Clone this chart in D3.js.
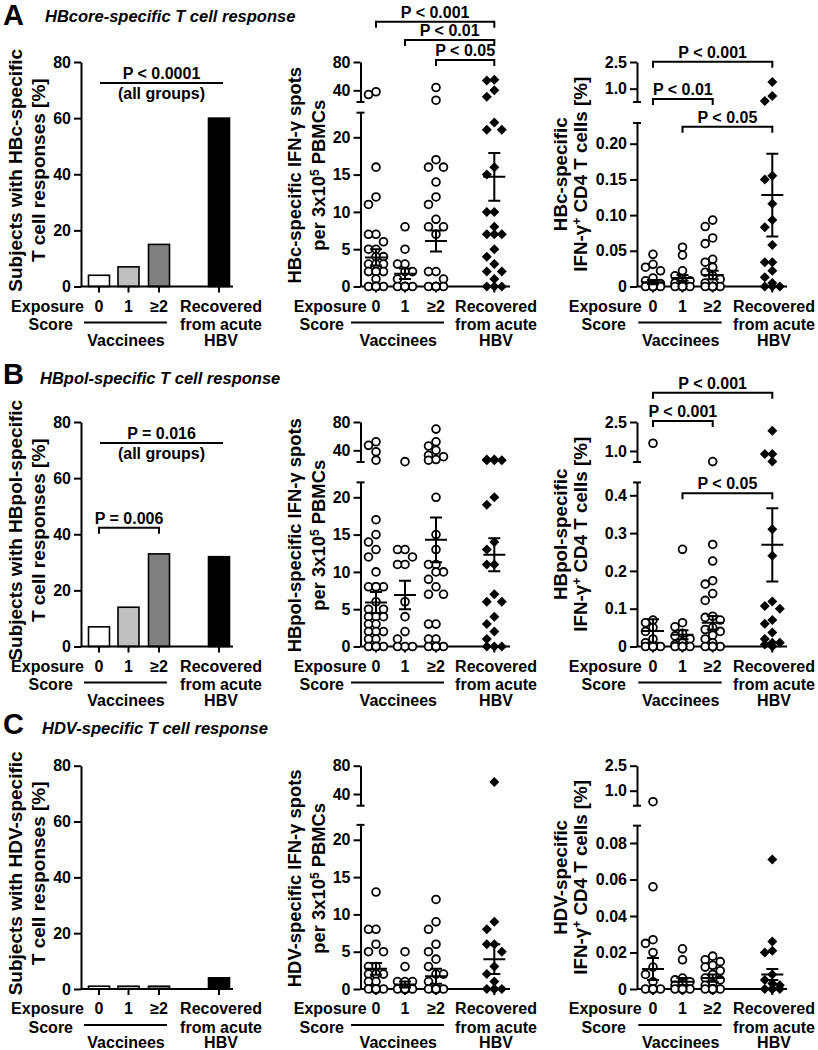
<!DOCTYPE html>
<html><head><meta charset="utf-8">
<script src="https://cdn.jsdelivr.net/npm/d3@7"></script>
<style>body{margin:0;background:#fff}svg text{font-family:"Liberation Sans",Arial,Helvetica,sans-serif;font-weight:bold;fill:#000}</style>
</head><body><svg id="chart" width="818" height="1050"></svg>
<script>
// ================= DATA =================
const groupKeys = ["g0", "g1", "g2", "rec"];
const groupLabels = ["0", "1", "\u22652"];
const barColors = ["#ffffff", "#c0c0c0", "#808080", "#000000"];
const barTicks = [0, 20, 40, 60, 80];

// % subjects with responses
const barA = [4, 7, 15, 60];
const barB = [7, 14, 33, 32];
const barC = [1, 1, 1, 4];

// IFN-g spots per 3x10^5 PBMCs — HBcore
const spotsA_g0 = [38, 34, 16, 12, 11, 7, 7, 6, 5, 5, 4, 4, 3, 3, 3, 2, 2, 2, 2, 1, 0, 0, 0, 0, 0, 0, 0, 0, 0];
const spotsA_g1 = [8, 5, 3, 3, 2, 2, 1, 0, 0, 0, 0, 0, 0];
const spotsA_g2 = [44, 26, 17, 16, 16, 14, 12, 11, 9, 8, 8, 7, 2, 2, 1, 0, 0, 0, 0, 0, 0];
const spotsA_rec = [55, 54, 40, 31, 22, 21, 21, 16, 15, 10, 10, 8, 7, 7, 7, 5, 4, 3, 2, 2, 1, 0, 0, 0];
const spotsA_mean = [3.9, 1.7, 6.1, 14.7];
const spotsA_sem = [1.1, 0.7, 1.4, 3.2];

// IFN-g+ CD4 T cells [%] — HBcore
const cd4A_g0 = [0.045, 0.031, 0.027, 0.022, 0.012, 0.008, 0.004, 0, 0, 0, 0, 0, 0, 0];
const cd4A_g1 = [0.055, 0.044, 0.022, 0.015, 0.01, 0.008, 0.005, 0.003, 0, 0, 0, 0, 0, 0];
const cd4A_g2 = [0.093, 0.084, 0.068, 0.06, 0.038, 0.034, 0.027, 0.02, 0.015, 0.01, 0.005, 0, 0, 0, 0, 0, 0, 0, 0];
const cd4A_rec = [1.375, 0.59, 0.31, 0.155, 0.15, 0.116, 0.093, 0.083, 0.058, 0.034, 0.034, 0.022, 0.013, 0.005, 0, 0, 0];
const cd4A_mean = [0.006, 0.012, 0.016, 0.128];
const cd4A_sem = [0.003, 0.004, 0.006, 0.058];

// spots — HBpol
const spotsB_g0 = [52, 47, 38, 26, 17, 15, 14, 13, 12, 10, 8, 8, 8, 8, 8, 6, 5, 5, 4, 4, 4, 3, 3, 2, 2, 2, 1, 1, 0, 0, 0, 0, 0, 0, 0];
const spotsB_g1 = [24, 13, 13, 12, 11, 11, 6, 4, 2, 1, 0, 0, 0];
const spotsB_g2 = [70, 52, 46, 40, 33, 31, 27, 26, 20, 15, 13, 11, 11, 10, 10, 9, 8, 7, 7, 3, 3, 1, 1, 0, 0, 0, 0, 0, 0, 0];
const spotsB_rec = [27, 27, 26, 26, 26, 20, 19, 14, 13, 11, 11, 7, 6, 6, 4, 3, 2, 1, 0, 0, 0];
const spotsB_mean = [5.9, 6.9, 14.3, 12.3];
const spotsB_sem = [1.4, 1.9, 3.0, 2.2];

// CD4 % — HBpol
const cd4B_g0 = [1.4, 0.07, 0.063, 0.05, 0.04, 0.02, 0.01, 0, 0, 0, 0, 0, 0];
const cd4B_g1 = [0.257, 0.063, 0.052, 0.035, 0.028, 0.02, 0.01, 0.005, 0, 0, 0, 0, 0, 0];
const cd4B_g2 = [0.45, 0.27, 0.226, 0.174, 0.165, 0.14, 0.122, 0.08, 0.077, 0.07, 0.05, 0.045, 0.04, 0.03, 0.02, 0.01, 0, 0, 0, 0, 0, 0];
const cd4B_rec = [2.05, 0.84, 0.84, 0.45, 0.31, 0.24, 0.119, 0.107, 0.1, 0.07, 0.06, 0.037, 0.02, 0.01, 0.01, 0.005, 0];
const cd4B_mean = [0.041, 0.031, 0.063, 0.269];
const cd4B_sem = [0.031, 0.012, 0.018, 0.097];

// spots — HDV
const spotsC_g0 = [13, 8, 8, 6, 5, 5, 3, 3, 2, 2, 2, 2, 2, 1, 1, 0, 0, 0, 0, 0, 0, 0, 0];
const spotsC_g1 = [5, 3, 1, 1, 1, 0, 0, 0, 0, 0, 0, 0, 0];
const spotsC_g2 = [12, 9, 8, 6, 5, 4, 3, 2, 2, 1, 0, 0, 0, 0, 0, 0, 0, 0, 0, 0];
const spotsC_rec = [57, 9, 8, 6, 6, 5, 3, 2, 1, 0, 0, 0, 0];
const spotsC_mean = [2.7, 0.6, 1.7, 4.0];
const spotsC_sem = [0.8, 0.4, 1.0, 2.0];

// CD4 % — HDV
const cd4C_g0 = [0.34, 0.056, 0.027, 0.025, 0.02, 0.012, 0.008, 0.004, 0, 0, 0, 0, 0];
const cd4C_g1 = [0.022, 0.016, 0.006, 0.005, 0.004, 0.003, 0.002, 0, 0, 0, 0, 0, 0];
const cd4C_g2 = [0.018, 0.016, 0.015, 0.013, 0.012, 0.01, 0.008, 0.006, 0.005, 0.003, 0.002, 0, 0, 0, 0, 0, 0, 0];
const cd4C_rec = [0.071, 0.026, 0.021, 0.02, 0.008, 0.005, 0.003, 0.002, 0, 0, 0, 0, 0];
const cd4C_mean = [0.011, 0.004, 0.006, 0.008];
const cd4C_sem = [0.006, 0.002, 0.002, 0.003];

// tick values
const spotsBotTicks = [0, 5, 10, 15, 20];
const spotsTopTicks = [40, 80];
const cd4TopTicks = [1.0, 2.5];
const cd4A_ticks = [0, 0.05, 0.10, 0.15, 0.20];
const cd4B_ticks = [0, 0.1, 0.2, 0.3, 0.4];
const cd4C_ticks = [0, 0.02, 0.04, 0.06, 0.08];

// significance annotations
const sigAspots = [{a: 0, b: 3, p: "P < 0.001"}, {a: 1, b: 3, p: "P < 0.01"}, {a: 2, b: 3, p: "P < 0.05"}];
const sigAcd4 = [{a: 0, b: 3, p: "P < 0.001"}, {a: 0, b: 2, p: "P < 0.01"}, {a: 1, b: 3, p: "P < 0.05"}];
const sigBcd4 = [{a: 0, b: 3, p: "P < 0.001"}, {a: 0, b: 2, p: "P < 0.001"}, {a: 1, b: 3, p: "P < 0.05"}];
const sigBbar = [{a: 0, b: 2, p: "P = 0.006"}];
const allGroupsP = ["P < 0.0001", "P = 0.016"];

const panelLetters = ["A", "B", "C"];
const panelTitles = ["HBcore-specific T cell response", "HBpol-specific T cell response", "HDV-specific T cell response"];
const antigenNames = ["HBc", "HBpol", "HDV"];

// ================= LAYOUT =================
const svg = d3.select("#chart");
const FONT = "'Liberation Sans', Arial, Helvetica, sans-serif";
const rows = [
  {T: 62, Y0: 286.5, letterY: 25, titleX: 45, titleY: 21.5},
  {T: 422, Y0: 646.5, letterY: 384, titleX: 40, titleY: 383.5},
  {T: 765.7, Y0: 989, letterY: 734, titleX: 42, titleY: 734}
];
const cols = [
  {ax: 81, gx: [99, 128.5, 159, 219], xEnd: 233, expEnd: 84, scoreEnd: 73, lineX: [84, 167], vacc: 126, rec: 221, lab1: 21.5, lab2: 45, labDy: -4, labSize: 19},
  {ax: 360.5, gx: [376, 405, 436, 494.3], xEnd: 510, expEnd: 366.7, scoreEnd: 344, lineX: [351, 444], vacc: 398.3, rec: 496, lab1: 300.5, lab2: 324.5, labDy: 1, labSize: 18.4},
  {ax: 637, gx: [653, 682.5, 712.7, 772.3], xEnd: 787, expEnd: 641.7, scoreEnd: 626, lineX: [638.3, 721.7], vacc: 680.7, rec: 774, lab1: 566.5, lab2: 586.5, labDy: 0, labSize: 18.8}
];

function styleAxis(sel) {
  sel.attr("font-size", 16).attr("font-family", FONT).attr("font-weight", "bold");
  sel.selectAll("path.domain").attr("stroke", "#000").attr("stroke-width", 2);
  sel.selectAll(".tick line").attr("stroke", "#000").attr("stroke-width", 2);
  sel.selectAll(".tick text").attr("fill", "#000");
}

function text(x, y, s, size, anchor) {
  return svg.append("text").attr("x", x).attr("y", y).attr("font-size", size || 16)
    .attr("text-anchor", anchor || "middle").text(s);
}

function yLabel(x, y, parts, size) {
  const t = svg.append("text").attr("transform", `translate(${x},${y}) rotate(-90)`)
    .attr("text-anchor", "middle").attr("font-size", size);
  let shifted = false;
  parts.forEach(p => {
    const ts = t.append("tspan").text(p.t);
    if (p.sup) { ts.attr("dy", -6).attr("font-size", 12); shifted = true; }
    else if (shifted) { ts.attr("dy", 6); shifted = false; }
  });
}

function xAxisAndLabels(row, col, x) {
  const g = svg.append("g");
  g.append("line").attr("x1", col.ax).attr("x2", col.xEnd).attr("y1", row.Y0).attr("y2", row.Y0)
    .attr("stroke", "#000").attr("stroke-width", 2);
  g.selectAll("line.tk").data(groupKeys).join("line").attr("class", "tk")
    .attr("x1", d => x(d)).attr("x2", d => x(d)).attr("y1", row.Y0).attr("y2", row.Y0 + 6)
    .attr("stroke", "#000").attr("stroke-width", 2);
  const yb = row.Y0 + 25;
  text(col.expEnd, yb, "Exposure", 16, "end");
  groupLabels.forEach((l, i) => text(x(groupKeys[i]), yb, l, 16));
  text(col.rec, yb, "Recovered", 16);
  text(col.rec, row.Y0 + 43.5, "from acute", 16);
  text(col.rec, row.Y0 + 59, "HBV", 16);
  text(col.scoreEnd, row.Y0 + 43.5, "Score", 16, "end");
  g.append("line").attr("x1", col.lineX[0]).attr("x2", col.lineX[1]).attr("y1", row.Y0 + 36).attr("y2", row.Y0 + 36)
    .attr("stroke", "#000").attr("stroke-width", 2);
  text(col.vacc, row.Y0 + 59, "Vaccinees", 16);
}

function bracket(x1, x2, y, label) {
  svg.append("path").attr("d", `M${x1},${y + 6}V${y}H${x2}V${y + 6}`)
    .attr("fill", "none").attr("stroke", "#000").attr("stroke-width", 2);
  text((x1 + x2) / 2, y - 4, label, 16);
}

function drawBars(ri, vals, pAll, sigs) {
  const row = rows[ri], col = cols[0];
  const y = d3.scaleLinear().domain([0, 80]).range([row.Y0, row.T]);
  const x = d3.scaleOrdinal().domain(groupKeys).range(col.gx);
  svg.append("g").selectAll("rect").data(vals).join("rect")
    .attr("x", (d, i) => x(groupKeys[i]) - 10.5).attr("width", 21)
    .attr("y", d => y(d)).attr("height", d => row.Y0 - y(d))
    .attr("fill", (d, i) => barColors[i]).attr("stroke", "#000").attr("stroke-width", 1.6);
  const ax = svg.append("g").attr("transform", `translate(${col.ax},0)`)
    .call(d3.axisLeft(y).tickValues(barTicks).tickSize(7).tickSizeOuter(0).tickPadding(3));
  styleAxis(ax);
  xAxisAndLabels(row, col, x);
  if (pAll) {
    const ly = row.T + 21;
    svg.append("line").attr("x1", 100).attr("x2", 223).attr("y1", ly).attr("y2", ly)
      .attr("stroke", "#000").attr("stroke-width", 2);
    text(161.5, ly - 4, pAll, 16);
    text(161.5, ly + 16, "(all groups)", 16);
  }
  (sigs || []).forEach(s => bracket(x(groupKeys[s.a]), x(groupKeys[s.b]), row.T + 105.7, s.p));
  const nm = antigenNames[ri];
  yLabel(col.lab1, (row.T + row.Y0) / 2 + col.labDy, [{t: `Subjects with ${nm}-specific`}], col.labSize);
  yLabel(col.lab2, (row.T + row.Y0) / 2 + col.labDy, [{t: "T cell responses [%]"}], col.labSize);
}

function swarm(vals, yf) {
  const sorted = vals.slice().sort((a, b) => b - a);
  const placed = [];
  const cands = [0, -7.5, 7.5];
  sorted.forEach(v => {
    const y = yf(v);
    let best = 0, bestD = -1;
    for (const o of cands) {
      let md = Infinity;
      for (const p of placed) md = Math.min(md, Math.hypot(p.dx - o, p.y - y));
      if (md >= 7.5) { best = o; break; }
      if (md > bestD) { bestD = md; best = o; }
    }
    placed.push({v, dx: best, y});
  });
  return placed;
}

function drawScatter(ri, ci, cfg) {
  const row = rows[ri], col = cols[ci];
  const bot = d3.scaleLinear().domain([0, cfg.botRef]).range([row.Y0, row.Y0 - cfg.botPx]);
  const botSeg = bot.copy().domain([0, cfg.botMax]).range([row.Y0, bot(cfg.botMax)]);
  const top = d3.scaleLinear().domain([cfg.topLo, cfg.topHi]).range([row.T + 40, row.T]);
  const yv = v => v <= cfg.botMax ? bot(v) : top(Math.max(v, cfg.topLo));
  const x = d3.scaleOrdinal().domain(groupKeys).range(col.gx);

  const a1 = svg.append("g").attr("transform", `translate(${col.ax},0)`)
    .call(d3.axisLeft(botSeg).tickValues(cfg.botTicks).tickFormat(cfg.fmtBot).tickSize(7).tickSizeOuter(0).tickPadding(3));
  styleAxis(a1);
  const a2 = svg.append("g").attr("transform", `translate(${col.ax},0)`)
    .call(d3.axisLeft(top).tickValues(cfg.topTicks).tickFormat(cfg.fmtTop).tickSize(7).tickSizeOuter(0).tickPadding(3));
  styleAxis(a2);
  [top.range()[0], botSeg.range()[1]].forEach(yy => {
    svg.append("line").attr("x1", col.ax - 4).attr("x2", col.ax + 4).attr("y1", yy).attr("y2", yy)
      .attr("stroke", "#000").attr("stroke-width", 2);
  });
  xAxisAndLabels(row, col, x);

  cfg.data.forEach((vals, gi) => {
    const pts = swarm(vals, yv);
    const cx = x(groupKeys[gi]);
    const g = svg.append("g");
    if (gi < 3) {
      g.selectAll("circle").data(pts).join("circle")
        .attr("cx", d => cx + d.dx).attr("cy", d => d.y).attr("r", 3.9)
        .attr("fill", "#fff").attr("stroke", "#000").attr("stroke-width", 1.8);
    } else {
      g.selectAll("path").data(pts).join("path")
        .attr("d", d => `M${cx + d.dx},${d.y - 5}l5,5l-5,5l-5,-5z`).attr("fill", "#000");
    }
  });
  cfg.mean.forEach((m, gi) => {
    const cx = x(groupKeys[gi]);
    const s = cfg.sem[gi];
    const yT = yv(m + s), yB = yv(Math.max(0, m - s)), yM = yv(m);
    const p = `M${cx - 11},${yM}H${cx + 11}M${cx},${yT}V${yB}M${cx - 6},${yT}H${cx + 6}M${cx - 6},${yB}H${cx + 6}`;
    svg.append("path").attr("d", p).attr("fill", "none").attr("stroke", "#000").attr("stroke-width", 2);
  });
  (cfg.sigs || []).forEach((s, k) => bracket(x(groupKeys[s.a]), x(groupKeys[s.b]), cfg.sigY[k], s.p));
  const cy = (row.T + row.Y0) / 2 + col.labDy;
  yLabel(col.lab1, cy, cfg.label1, col.labSize);
  yLabel(col.lab2, cy, cfg.label2, col.labSize);
}

// ================= DRAW =================
rows.forEach((r, i) => {
  svg.append("text").attr("x", 3).attr("y", r.letterY).attr("font-size", 29).text(panelLetters[i]);
  svg.append("text").attr("x", r.titleX).attr("y", r.titleY).attr("font-size", 16.5)
    .attr("font-style", "italic").text(panelTitles[i]);
});

drawBars(0, barA, allGroupsP[0], null);
drawBars(1, barB, allGroupsP[1], sigBbar);
drawBars(2, barC, null, null);

const f2 = v => v === 0 ? "0" : d3.format(".2f")(v);
const f1 = v => v === 0 ? "0" : d3.format(".1f")(v);
const fd = d3.format("d");

function spotsLabel(nm) {
  return [[{t: `${nm}-specific IFN-\u03b3 spots`}], [{t: "per 3x10"}, {t: "5", sup: true}, {t: " PBMCs"}]];
}
function cd4Label(nm) {
  return [[{t: `${nm}-specific`}], [{t: "IFN-\u03b3"}, {t: "+", sup: true}, {t: " CD4 T cells [%]"}]];
}

const sA = spotsLabel("HBc"), sB = spotsLabel("HBpol"), sC = spotsLabel("HDV");
const cA = cd4Label("HBc"), cB = cd4Label("HBpol"), cC = cd4Label("HDV");

drawScatter(0, 1, {botRef: 20, botPx: 149.2, botMax: 23.3, topLo: 23.5, topHi: 80,
  botTicks: spotsBotTicks, topTicks: spotsTopTicks, fmtBot: fd, fmtTop: fd,
  data: [spotsA_g0, spotsA_g1, spotsA_g2, spotsA_rec], mean: spotsA_mean, sem: spotsA_sem,
  sigs: sigAspots, sigY: [21.7, 40, 60], label1: sA[0], label2: sA[1]});
drawScatter(0, 2, {botRef: 0.2, botPx: 142.8, botMax: 0.229, topLo: 0.25, topHi: 2.5,
  botTicks: cd4A_ticks, topTicks: cd4TopTicks, fmtBot: f2, fmtTop: f1,
  data: [cd4A_g0, cd4A_g1, cd4A_g2, cd4A_rec], mean: cd4A_mean, sem: cd4A_sem,
  sigs: sigAcd4, sigY: [61.7, 99, 126.7], label1: cA[0], label2: cA[1]});
drawScatter(1, 1, {botRef: 20, botPx: 149.2, botMax: 22, topLo: 23.5, topHi: 80,
  botTicks: spotsBotTicks, topTicks: spotsTopTicks, fmtBot: fd, fmtTop: fd,
  data: [spotsB_g0, spotsB_g1, spotsB_g2, spotsB_rec], mean: spotsB_mean, sem: spotsB_sem,
  label1: sB[0], label2: sB[1]});
drawScatter(1, 2, {botRef: 0.4, botPx: 151.2, botMax: 0.434, topLo: 0.43, topHi: 2.5,
  botTicks: cd4B_ticks, topTicks: cd4TopTicks, fmtBot: f1, fmtTop: f1,
  data: [cd4B_g0, cd4B_g1, cd4B_g2, cd4B_rec], mean: cd4B_mean, sem: cd4B_sem,
  sigs: sigBcd4, sigY: [392.7, 421, 493.3], label1: cB[0], label2: cB[1]});
drawScatter(2, 1, {botRef: 20, botPx: 149.2, botMax: 22, topLo: 23.5, topHi: 80,
  botTicks: spotsBotTicks, topTicks: spotsTopTicks, fmtBot: fd, fmtTop: fd,
  data: [spotsC_g0, spotsC_g1, spotsC_g2, spotsC_rec], mean: spotsC_mean, sem: spotsC_sem,
  label1: sC[0], label2: sC[1]});
drawScatter(2, 2, {botRef: 0.08, botPx: 146, botMax: 0.0895, topLo: 0.1, topHi: 2.5,
  botTicks: cd4C_ticks, topTicks: cd4TopTicks, fmtBot: f2, fmtTop: f1,
  data: [cd4C_g0, cd4C_g1, cd4C_g2, cd4C_rec], mean: cd4C_mean, sem: cd4C_sem,
  label1: cC[0], label2: cC[1]});
</script></body></html>
